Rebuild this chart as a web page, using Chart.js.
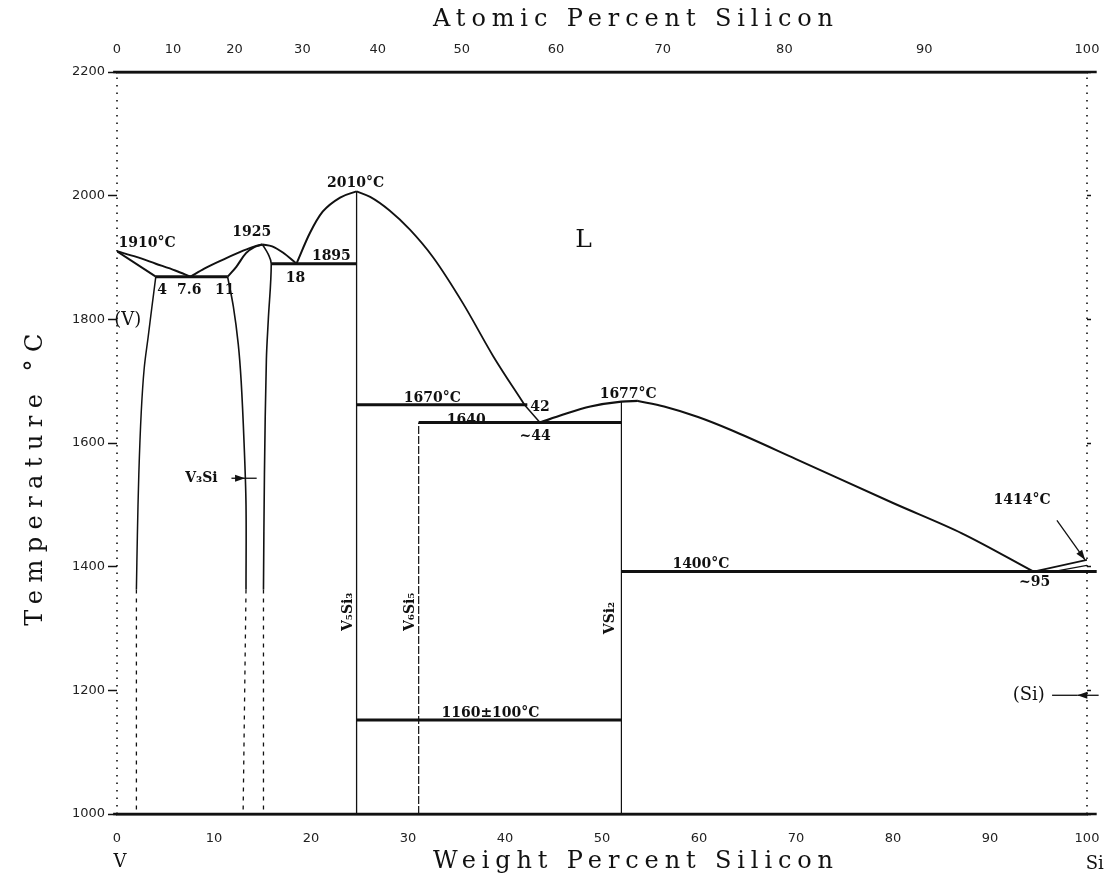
<!DOCTYPE html>
<html>
<head>
<meta charset="utf-8">
<script src="https://cdn.jsdelivr.net/npm/chart.js@4.4.1/dist/chart.umd.min.js"></script>
<style>
  html, body { margin: 0; padding: 0; background: #fff; }
</style>
</head>
<body>
<canvas id="phase" width="1111" height="881"></canvas>
<script>
// axis ticks
const wtTicks = [0, 10, 20, 30, 40, 50, 60, 70, 80, 90, 100];
const atTicks = [0, 10, 20, 30, 40, 50, 60, 70, 80, 90, 100];
const tempTicks = [1000, 1200, 1400, 1600, 1800, 2000, 2200];

// phase boundaries, [wt% Si, temperature C]
const liqV       = [[0, 1910], [2, 1901], [4, 1890], [6, 1879], [7.6, 1869]];
const solV       = [[0, 1910], [4, 1869]];
const solvusV    = [[4, 1869], [3.6, 1820], [3.2, 1770], [2.8, 1720], [2.5, 1650], [2.25, 1550], [2.1, 1450], [2.0, 1363]];
const solvusVLow = [[2.0, 1363], [2.0, 1000]];
const eut1870    = [[4, 1869], [11.4, 1869]];
const liqV3SiL   = [[7.6, 1869], [9, 1882], [11, 1897], [13, 1911], [14.2, 1918], [15, 1921]];
const solV3SiTop = [[15, 1921], [14.2, 1917], [13.3, 1907], [12.3, 1885], [11.4, 1869]];
const solV3SiL   = [[11.4, 1869], [12.0, 1820], [12.5, 1760], [12.8, 1700], [13.1, 1600], [13.3, 1500], [13.3, 1363]];
const solV3SiLLow = [[13.3, 1363], [13.0, 1000]];
const solV3SiR   = [[15, 1921], [15.6, 1905], [15.9, 1890], [15.6, 1800], [15.4, 1735], [15.2, 1550], [15.1, 1363]];
const solV3SiRLow = [[15.1, 1363], [15.1, 1000]];
const liqV3SiR   = [[15, 1921], [16, 1918], [17.1, 1908], [18.5, 1890]];
const eut1895    = [[15.9, 1890], [24.7, 1890]];
const liqV5Si3L  = [[18.5, 1890], [19.9, 1940], [21.2, 1974], [23, 1997], [24.7, 2007]];
const liqV5Si3R  = [[24.7, 2007], [26.1, 1998], [28.1, 1976], [30.2, 1945], [32.6, 1900], [35.7, 1825], [38.8, 1740], [42, 1662]];
const eut1670    = [[24.7, 1662], [42.3, 1662]];
const liqPeri    = [[42, 1662], [43.6, 1633]];
const per1640    = [[31.1, 1633], [52, 1633]];
const liqVSi2L   = [[43.6, 1633], [46, 1646], [48.8, 1659], [52, 1667], [53.7, 1668]];
const liqVSi2R   = [[53.7, 1668], [56.4, 1659], [59.9, 1642], [63.3, 1621], [70, 1574], [80, 1503], [87.1, 1454], [94.5, 1392]];
const eut1400    = [[52, 1392], [101, 1392]];
const liqSi      = [[94.5, 1392], [100, 1411]];
const solSi      = [[96.5, 1392], [100, 1402]];
const lineV5Si3  = [[24.7, 1000], [24.7, 2007]];
const lineV6Si5  = [[31.1, 1000], [31.1, 1633]];
const lineVSi2   = [[52, 1000], [52, 1668]];
const eut1160    = [[24.7, 1152], [52, 1152]];
const frameLeft  = [[0, 1000], [0, 2200]];
const frameRight = [[100, 1000], [100, 2200]];
const frameTop   = [[-0.4, 2200], [101, 2200]];
const frameBottom = [[-0.4, 1000], [101, 1000]];

// text notes [text, wt, temp]
const notes = [
  ['1910°C', 3.1, 1923], ['4', 4.65, 1847], ['7.6', 7.45, 1847], ['11', 11.1, 1847],
  ['1925', 13.9, 1941], ['1895', 22.1, 1902], ['18', 18.4, 1867], ['2010°C', 24.6, 2020],
  ['1670°C', 32.5, 1673], ['42', 43.6, 1658], ['1640', 36.0, 1637], ['~44', 43.1, 1610],
  ['1677°C', 52.7, 1678], ['1414°C', 93.3, 1508], ['1400°C', 60.2, 1404], ['~95', 94.6, 1375],
  ['1160±100°C', 38.5, 1162], ['V₃Si', 8.7, 1543]
];
const phaseNotes = [['L', 48.1, 1928], ['(V)', 1.1, 1799], ['(Si)', 94.0, 1192], ['V', 0.3, 922], ['Si', 100.8, 919]];
const vertNotes = [['V₅Si₃', 23.8, 1327], ['V₆Si₅', 30.2, 1327], ['VSi₂', 50.9, 1317]];
const arrows = [
  [[11.8, 1543], [13.2, 1543]],
  [[96.9, 1475], [99.8, 1411]],
  [[101.2, 1192], [99.0, 1192]]
];
const arrowTails = [[[13.2, 1543], [14.4, 1543]], [[99.0, 1192], [96.4, 1192]]];

function atToWt(a) {
  return 100 * a * 28.086 / (a * 28.086 + (100 - a) * 50.9415);
}

function mk(points, width, opts) {
  return Object.assign({
    data: points.map(p => ({x: p[0], y: p[1]})),
    showLine: true,
    borderColor: '#111',
    borderWidth: width,
    pointRadius: 0,
    tension: 0
  }, opts || {});
}

const curve = {tension: 0.35};
const smooth = {cubicInterpolationMode: 'monotone'};
const dashed = {borderDash: [4, 5]};
const dotted = {borderDash: [1.5, 6], clip: false};

const datasets = [
  mk(frameLeft, 1.6, dotted), mk(frameRight, 1.6, dotted),
  mk(frameTop, 2.5, {clip: false}), mk(frameBottom, 2.5, {clip: false}),
  mk(liqV, 2, smooth), mk(solV, 2), mk(solvusV, 1.5, curve), mk(solvusVLow, 1.3, dashed),
  mk(eut1870, 3), mk(liqV3SiL, 2, smooth), mk(solV3SiTop, 2, curve), mk(solV3SiL, 1.6, curve),
  mk(solV3SiLLow, 1.3, dashed), mk(solV3SiR, 1.6, curve), mk(solV3SiRLow, 1.3, dashed),
  mk(liqV3SiR, 2, smooth), mk(eut1895, 3), mk(liqV5Si3L, 2, smooth), mk(liqV5Si3R, 1.8, smooth),
  mk(eut1670, 3), mk(liqPeri, 1.5), mk(per1640, 3), mk(liqVSi2L, 2.2, smooth), mk(liqVSi2R, 2, smooth),
  mk(eut1400, 3, {clip: false}), mk(liqSi, 1.8), mk(solSi, 1.2),
  mk(lineV5Si3, 1.3), mk(lineV6Si5, 1.2, {borderDash: [8, 2]}), mk(lineVSi2, 1.2), mk(eut1160, 3)
];

const serif = '"DejaVu Serif", serif';

const notesPlugin = {
  id: 'notes',
  afterDatasetsDraw(chart) {
    const {ctx, scales: {x, y}} = chart;
    const px = v => x.getPixelForValue(v);
    const py = v => y.getPixelForValue(v);
    ctx.save();
    ctx.fillStyle = '#111';
    ctx.strokeStyle = '#111';
    ctx.textAlign = 'center';
    ctx.textBaseline = 'middle';

    ctx.font = 'bold 14px ' + serif;
    notes.forEach(([t, wx, ty]) => ctx.fillText(t, px(wx), py(ty)));

    phaseNotes.forEach(([t, wx, ty]) => {
      ctx.font = (t === 'L' ? '25px ' : '18px ') + serif;
      ctx.fillText(t, px(wx), py(ty));
    });

    ctx.font = 'bold 14px ' + serif;
    vertNotes.forEach(([t, wx, ty]) => {
      ctx.save();
      ctx.translate(px(wx), py(ty));
      ctx.rotate(-Math.PI / 2);
      ctx.fillText(t, 0, 0);
      ctx.restore();
    });

    ctx.lineWidth = 1.3;
    arrowTails.forEach(([a, b]) => {
      ctx.beginPath();
      ctx.moveTo(px(a[0]), py(a[1]));
      ctx.lineTo(px(b[0]), py(b[1]));
      ctx.stroke();
    });
    arrows.forEach(([a, b]) => {
      const x0 = px(a[0]), y0 = py(a[1]), x1 = px(b[0]), y1 = py(b[1]);
      const ang = Math.atan2(y1 - y0, x1 - x0);
      ctx.beginPath();
      ctx.moveTo(x0, y0);
      ctx.lineTo(x1, y1);
      ctx.stroke();
      ctx.beginPath();
      ctx.moveTo(x1, y1);
      ctx.lineTo(x1 - 10 * Math.cos(ang) + 3.5 * Math.sin(ang), y1 - 10 * Math.sin(ang) - 3.5 * Math.cos(ang));
      ctx.lineTo(x1 - 10 * Math.cos(ang) - 3.5 * Math.sin(ang), y1 - 10 * Math.sin(ang) + 3.5 * Math.cos(ang));
      ctx.closePath();
      ctx.fill();
    });

    // axis titles, spread to the scanned width
    const spread = (text, cx, cy, width, rot) => {
      ctx.save();
      ctx.font = '24px ' + serif;
      ctx.letterSpacing = '0px';
      const w = ctx.measureText(text).width;
      ctx.letterSpacing = Math.max(0, (width - w) / (text.length - 1)) + 'px';
      ctx.translate(cx, cy);
      if (rot) ctx.rotate(-Math.PI / 2);
      ctx.fillText(text, 0, 0);
      ctx.restore();
    };
    spread('Atomic Percent Silicon', 636, 20, 400);
    spread('Weight Percent Silicon', 636, 862, 400);
    spread('Temperature °C', 36, 476, 292, true);
    ctx.restore();
  }
};

const tickFont = {family: '"DejaVu Sans", sans-serif', size: 13};
const noPad = s => { s.paddingLeft = 0; s.paddingRight = 0; };

new Chart(document.getElementById('phase'), {
  type: 'scatter',
  data: {datasets},
  options: {
    responsive: false,
    animation: false,
    events: [],
    layout: {padding: 0},
    plugins: {legend: {display: false}, tooltip: {enabled: false}},
    scales: {
      x: {
        type: 'linear', position: 'bottom', min: 0, max: 100,
        afterBuildTicks: s => { s.ticks = wtTicks.map(v => ({value: v})); },
        afterFit: s => { s.height = 67; noPad(s); },
        ticks: {autoSkip: false, maxRotation: 0, padding: 17, color: '#222', font: tickFont,
          callback: v => String(v)},
        grid: {display: true, drawOnChartArea: false, drawTicks: false},
        border: {display: true, color: '#111', width: 2.5}
      },
      x2: {
        type: 'linear', position: 'top', min: 0, max: 100,
        afterBuildTicks: s => { s.ticks = atTicks.map(a => ({value: atToWt(a)})); },
        afterFit: s => { s.height = 72; noPad(s); },
        ticks: {autoSkip: false, maxRotation: 0, padding: 15, color: '#222', font: tickFont,
          callback: (v, i) => String(atTicks[i])},
        grid: {display: true, drawOnChartArea: false, drawTicks: false},
        border: {display: true, color: '#111', width: 2.5}
      },
      y: {
        type: 'linear', position: 'left', min: 1000, max: 2200,
        afterBuildTicks: s => { s.ticks = tempTicks.map(v => ({value: v})); },
        afterFit: s => { s.width = 117; },
        ticks: {padding: 3, color: '#222', font: tickFont, callback: v => String(v)},
        grid: {display: true, drawOnChartArea: false, drawTicks: true, tickLength: 9, color: '#111', tickWidth: 1.5},
        border: {display: false}
      },
      y2: {
        type: 'linear', position: 'right', min: 1000, max: 2200,
        afterBuildTicks: s => { s.ticks = tempTicks.map(v => ({value: v})); },
        afterFit: s => { s.width = 24; },
        ticks: {padding: 0, callback: () => ''},
        grid: {display: true, drawOnChartArea: false, drawTicks: true, tickLength: 4, color: '#111', tickWidth: 1.5},
        border: {display: false}
      }
    }
  },
  plugins: [notesPlugin]
});
</script>
</body>
</html>
